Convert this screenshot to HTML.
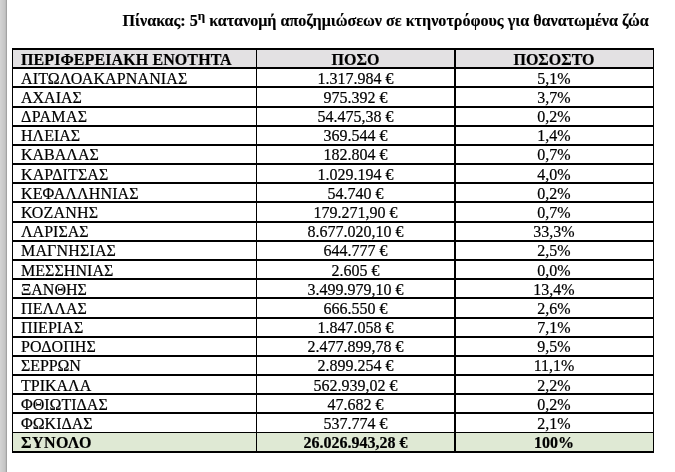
<!DOCTYPE html>
<html><head><meta charset="utf-8"><style>
html,body{margin:0;padding:0;background:#fff;}
body{width:675px;height:472px;position:relative;overflow:hidden;font-family:"Liberation Serif","Times New Roman",serif;color:#000;}
.strip{position:absolute;left:0;top:0;width:7px;height:472px;background:linear-gradient(to right,#d2d2d2 0 1px,#cfcfcf 1px 2px,#cccccc 2px 3px,#c9c9c9 3px 4px,#c6c6c6 4px 5px,#bdbdbd 5px 6px,#a3a3a3 6px 7px);}
.title{position:absolute;left:122.5px;top:12px;font-size:16.08px;-webkit-text-stroke:0.15px #000;line-height:18px;font-weight:bold;white-space:nowrap;}
.title sup{font-size:13px;line-height:0;vertical-align:6.5px;}
.t{position:absolute;font-size:16px;line-height:18px;white-space:nowrap;-webkit-text-stroke:0.2px #000;}
.h{position:absolute;left:12px;width:642px;background:#000;}
.v{position:absolute;top:48px;height:405px;background:#000;}
</style></head><body>
<div class="strip"></div>
<div class="title">Πίνακας: 5<sup>η</sup> κατανομή αποζημιώσεων σε κτηνοτρόφους για θανατωμένα ζώα</div>
<div style="position:absolute;left:13px;top:50px;width:640px;height:17px;background:#e3e1e3"></div>
<div style="position:absolute;left:13px;top:433px;width:640px;height:18px;background:#dfe9d4"></div>
<div class="h" style="top:48px;height:2px"></div>
<div class="h" style="top:67px;height:2px"></div>
<div class="h" style="top:86px;height:2px"></div>
<div class="h" style="top:106px;height:2px"></div>
<div class="h" style="top:125px;height:2px"></div>
<div class="h" style="top:144px;height:2px"></div>
<div class="h" style="top:163px;height:2px"></div>
<div class="h" style="top:182px;height:2px"></div>
<div class="h" style="top:201px;height:2px"></div>
<div class="h" style="top:221px;height:2px"></div>
<div class="h" style="top:240px;height:2px"></div>
<div class="h" style="top:259px;height:2px"></div>
<div class="h" style="top:278px;height:2px"></div>
<div class="h" style="top:297px;height:2px"></div>
<div class="h" style="top:317px;height:2px"></div>
<div class="h" style="top:336px;height:2px"></div>
<div class="h" style="top:355px;height:2px"></div>
<div class="h" style="top:374px;height:2px"></div>
<div class="h" style="top:393px;height:2px"></div>
<div class="h" style="top:412px;height:2px"></div>
<div class="h" style="top:432px;height:1px"></div>
<div class="h" style="top:451px;height:2px"></div>
<div class="v" style="left:12px;width:1px"></div>
<div class="v" style="left:256px;width:1px"></div>
<div class="v" style="left:454px;width:2px"></div>
<div class="v" style="left:653px;width:1px"></div>
<div class="t" style="top:51px;left:21px;font-weight:bold;letter-spacing:0.095px;">ΠΕΡΙΦΕΡΕΙΑΚΗ ΕΝΟΤΗΤΑ</div>
<div class="t" style="top:51px;left:255.5px;width:200px;text-align:center;font-weight:bold;">ΠΟΣΟ</div>
<div class="t" style="top:51px;left:454px;width:200px;text-align:center;font-weight:bold;">ΠΟΣΟΣΤΟ</div>
<div class="t" style="top:70px;left:21px;letter-spacing:0.125px;">ΑΙΤΩΛΟΑΚΑΡΝΑΝΙΑΣ</div>
<div class="t" style="top:70px;left:255.5px;width:200px;text-align:center;">1.317.984 €</div>
<div class="t" style="top:70px;left:454px;width:200px;text-align:center;">5,1%</div>
<div class="t" style="top:89px;left:21px;">ΑΧΑΙΑΣ</div>
<div class="t" style="top:89px;left:255.5px;width:200px;text-align:center;">975.392 €</div>
<div class="t" style="top:89px;left:454px;width:200px;text-align:center;">3,7%</div>
<div class="t" style="top:108px;left:21px;letter-spacing:0.35px;">ΔΡΑΜΑΣ</div>
<div class="t" style="top:108px;left:255.5px;width:200px;text-align:center;">54.475,38 €</div>
<div class="t" style="top:108px;left:454px;width:200px;text-align:center;">0,2%</div>
<div class="t" style="top:127px;left:21px;">ΗΛΕΙΑΣ</div>
<div class="t" style="top:127px;left:255.5px;width:200px;text-align:center;">369.544 €</div>
<div class="t" style="top:127px;left:454px;width:200px;text-align:center;">1,4%</div>
<div class="t" style="top:146px;left:21px;">ΚΑΒΑΛΑΣ</div>
<div class="t" style="top:146px;left:255.5px;width:200px;text-align:center;">182.804 €</div>
<div class="t" style="top:146px;left:454px;width:200px;text-align:center;">0,7%</div>
<div class="t" style="top:166px;left:21px;letter-spacing:0.125px;">ΚΑΡΔΙΤΣΑΣ</div>
<div class="t" style="top:166px;left:255.5px;width:200px;text-align:center;">1.029.194 €</div>
<div class="t" style="top:166px;left:454px;width:200px;text-align:center;">4,0%</div>
<div class="t" style="top:185px;left:21px;letter-spacing:0.13px;">ΚΕΦΑΛΛΗΝΙΑΣ</div>
<div class="t" style="top:185px;left:255.5px;width:200px;text-align:center;">54.740 €</div>
<div class="t" style="top:185px;left:454px;width:200px;text-align:center;">0,2%</div>
<div class="t" style="top:204px;left:21px;letter-spacing:0.22px;">ΚΟΖΑΝΗΣ</div>
<div class="t" style="top:204px;left:255.5px;width:200px;text-align:center;">179.271,90 €</div>
<div class="t" style="top:204px;left:454px;width:200px;text-align:center;">0,7%</div>
<div class="t" style="top:223px;left:21px;">ΛΑΡΙΣΑΣ</div>
<div class="t" style="top:223px;left:255.5px;width:200px;text-align:center;">8.677.020,10 €</div>
<div class="t" style="top:223px;left:454px;width:200px;text-align:center;">33,3%</div>
<div class="t" style="top:242px;left:21px;letter-spacing:0.16px;">ΜΑΓΝΗΣΙΑΣ</div>
<div class="t" style="top:242px;left:255.5px;width:200px;text-align:center;">644.777 €</div>
<div class="t" style="top:242px;left:454px;width:200px;text-align:center;">2,5%</div>
<div class="t" style="top:262px;left:21px;letter-spacing:0.06px;">ΜΕΣΣΗΝΙΑΣ</div>
<div class="t" style="top:262px;left:255.5px;width:200px;text-align:center;">2.605 €</div>
<div class="t" style="top:262px;left:454px;width:200px;text-align:center;">0,0%</div>
<div class="t" style="top:281px;left:21px;">ΞΑΝΘΗΣ</div>
<div class="t" style="top:281px;left:255.5px;width:200px;text-align:center;">3.499.979,10 €</div>
<div class="t" style="top:281px;left:454px;width:200px;text-align:center;">13,4%</div>
<div class="t" style="top:300px;left:21px;letter-spacing:0.1px;">ΠΕΛΛΑΣ</div>
<div class="t" style="top:300px;left:255.5px;width:200px;text-align:center;">666.550 €</div>
<div class="t" style="top:300px;left:454px;width:200px;text-align:center;">2,6%</div>
<div class="t" style="top:319px;left:21px;letter-spacing:0.08px;">ΠΙΕΡΙΑΣ</div>
<div class="t" style="top:319px;left:255.5px;width:200px;text-align:center;">1.847.058 €</div>
<div class="t" style="top:319px;left:454px;width:200px;text-align:center;">7,1%</div>
<div class="t" style="top:338px;left:21px;letter-spacing:0.13px;">ΡΟΔΟΠΗΣ</div>
<div class="t" style="top:338px;left:255.5px;width:200px;text-align:center;">2.477.899,78 €</div>
<div class="t" style="top:338px;left:454px;width:200px;text-align:center;">9,5%</div>
<div class="t" style="top:357px;left:21px;letter-spacing:-0.1px;">ΣΕΡΡΩΝ</div>
<div class="t" style="top:357px;left:255.5px;width:200px;text-align:center;">2.899.254 €</div>
<div class="t" style="top:357px;left:454px;width:200px;text-align:center;">11,1%</div>
<div class="t" style="top:377px;left:21px;">ΤΡΙΚΑΛΑ</div>
<div class="t" style="top:377px;left:255.5px;width:200px;text-align:center;">562.939,02 €</div>
<div class="t" style="top:377px;left:454px;width:200px;text-align:center;">2,2%</div>
<div class="t" style="top:396px;left:21px;">ΦΘΙΩΤΙΔΑΣ</div>
<div class="t" style="top:396px;left:255.5px;width:200px;text-align:center;">47.682 €</div>
<div class="t" style="top:396px;left:454px;width:200px;text-align:center;">0,2%</div>
<div class="t" style="top:415px;left:21px;">ΦΩΚΙΔΑΣ</div>
<div class="t" style="top:415px;left:255.5px;width:200px;text-align:center;">537.774 €</div>
<div class="t" style="top:415px;left:454px;width:200px;text-align:center;">2,1%</div>
<div class="t" style="top:434px;left:21px;font-weight:bold;letter-spacing:0.5px;">ΣΥΝΟΛΟ</div>
<div class="t" style="top:434px;left:255.5px;width:200px;text-align:center;font-weight:bold;">26.026.943,28 €</div>
<div class="t" style="top:434px;left:454px;width:200px;text-align:center;font-weight:bold;">100%</div>
</body></html>
